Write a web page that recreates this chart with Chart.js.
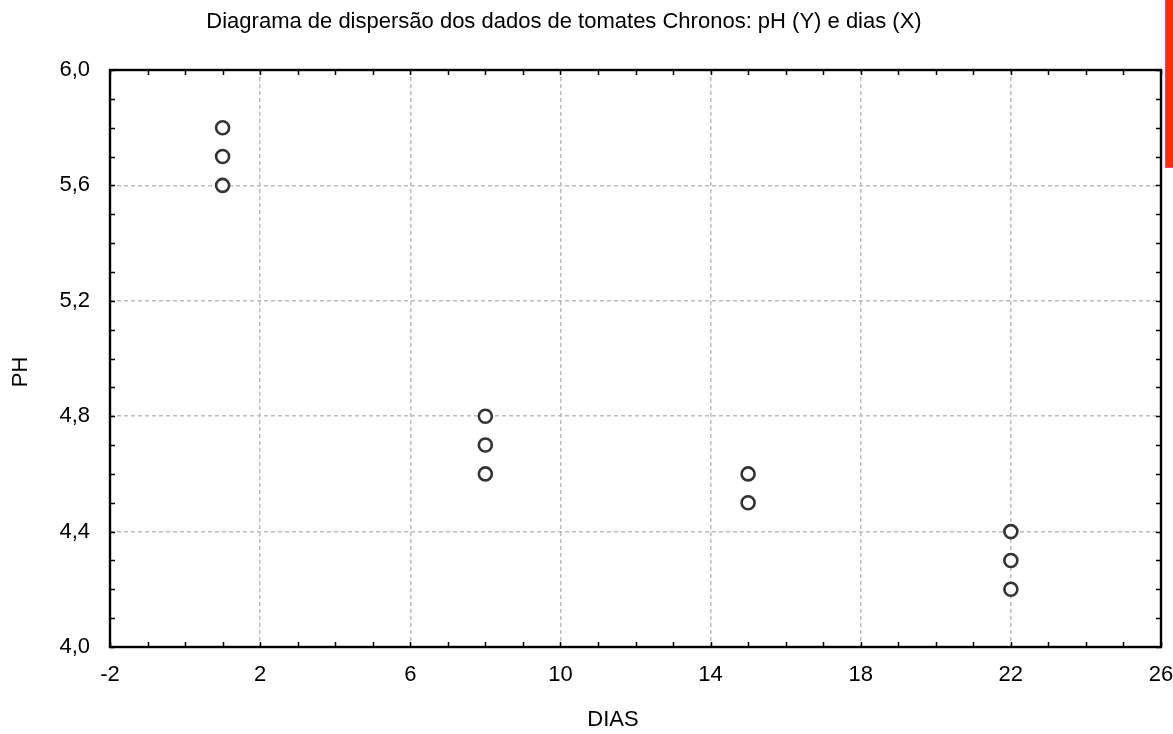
<!DOCTYPE html>
<html>
<head>
<meta charset="utf-8">
<script src="https://cdn.jsdelivr.net/npm/chart.js@4.4.1/dist/chart.umd.min.js"></script>
<style>
  html, body { margin: 0; padding: 0; background: #fff; }
  #wrap { position: relative; width: 1173px; height: 734px; }
  #flag { position: absolute; left: 1165px; top: 0; width: 8px; height: 168px;
          background: #ff2a00; border-left: 1px solid #ff3c78; border-bottom: 1px solid #ff3c78; box-sizing: border-box; }
</style>
</head>
<body>
<div id="wrap">
  <canvas id="c" width="1173" height="734"></canvas>
  <div id="flag"></div>
</div>
<script>
// Chronos tomatoes: pH measured on each sampling day
const dias = [1, 1, 1, 8, 8, 8, 15, 15, 22, 22, 22];
const ph   = [5.8, 5.7, 5.6, 4.8, 4.7, 4.6, 4.6, 4.5, 4.4, 4.3, 4.2];

// axis ranges and labelled tick values
const xTicks = [-2, 2, 6, 10, 14, 18, 22, 26];
const yTicks = [4.0, 4.4, 4.8, 5.2, 5.6, 6.0];

const titleText = 'Diagrama de dispersão dos dados de tomates Chronos: pH (Y) e dias (X)';
const xTitle = 'DIAS';
const yTitle = 'PH';

const FONT = '"Liberation Sans", Arial, sans-serif';
const FS = 22;

const isXMajor = v => xTicks.includes(Math.round(v));
const isYMajor = v => yTicks.some(t => Math.abs(t - v) < 1e-6);
const fmtY = v => v.toFixed(1).replace('.', ',');

// frame, inward minor/major ticks on all four sides, and the text
const framePlugin = {
  id: 'frame',
  afterDatasetsDraw(chart) {
    const { ctx, chartArea: a, scales: { x, y } } = chart;
    ctx.save();
    ctx.strokeStyle = '#000';
    ctx.lineWidth = 1.5;
    x.ticks.forEach(t => {
      const px = Math.round(x.getPixelForValue(t.value)) + 0.5;
      ctx.beginPath();
      ctx.moveTo(px, a.bottom); ctx.lineTo(px, a.bottom - 5);
      ctx.moveTo(px, a.top); ctx.lineTo(px, a.top + 5);
      ctx.stroke();
    });
    y.ticks.forEach(t => {
      const py = Math.round(y.getPixelForValue(t.value)) + 0.5;
      ctx.beginPath();
      ctx.moveTo(a.left, py); ctx.lineTo(a.left + 5, py);
      ctx.moveTo(a.right, py); ctx.lineTo(a.right - 5, py);
      ctx.stroke();
    });
    ctx.lineWidth = 2.4;
    ctx.strokeRect(a.left, a.top, a.right - a.left, a.bottom - a.top);

    ctx.fillStyle = '#000';
    ctx.font = FS + 'px ' + FONT;
    ctx.textAlign = 'center';
    ctx.textBaseline = 'middle';
    ctx.fillText(titleText, 564, 22);
    ctx.fillText(xTitle, 613, 720);
    ctx.translate(21, 372);
    ctx.rotate(-Math.PI / 2);
    ctx.fillText(yTitle, 0, 0);
    ctx.restore();
  }
};

new Chart(document.getElementById('c'), {
  type: 'scatter',
  data: {
    datasets: [{
      data: dias.map((d, i) => ({ x: d, y: ph[i] })),
      pointRadius: 6.5,
      pointHoverRadius: 6.5,
      pointBorderWidth: 2.6,
      pointBorderColor: '#333',
      pointBackgroundColor: '#fff'
    }]
  },
  options: {
    responsive: false,
    animation: false,
    events: [],
    layout: { padding: { top: 70, right: 12, left: 0, bottom: 0 } },
    plugins: { legend: { display: false }, tooltip: { enabled: false } },
    scales: {
      x: {
        type: 'linear',
        min: -2, max: 26,
        afterFit(s) { s.height = 87; s.paddingLeft = 0; s.paddingRight = 0; },
        ticks: {
          stepSize: 1, autoSkip: false, maxRotation: 0, padding: 15,
          color: '#000', font: { family: FONT, size: FS },
          callback: v => isXMajor(v) ? String(v) : ''
        },
        grid: {
          drawTicks: false,
          color: c => (isXMajor(c.tick.value) && c.tick.value > -2 && c.tick.value < 26) ? '#bdbdbd' : 'rgba(0,0,0,0)',
          lineWidth: 1.5
        },
        border: { display: false, dash: [4, 3] }
      },
      y: {
        type: 'linear',
        min: 4.0, max: 6.0,
        afterFit(s) { s.width = 110; s.paddingTop = 0; s.paddingBottom = 0; },
        ticks: {
          stepSize: 0.1, autoSkip: false, padding: 20,
          color: '#000', font: { family: FONT, size: FS },
          callback: v => isYMajor(v) ? fmtY(v) : ''
        },
        grid: {
          drawTicks: false,
          color: c => (isYMajor(c.tick.value) && c.tick.value > 4.01 && c.tick.value < 5.99) ? '#bdbdbd' : 'rgba(0,0,0,0)',
          lineWidth: 1.5
        },
        border: { display: false, dash: [4, 3] }
      }
    }
  },
  plugins: [framePlugin]
});
</script>
</body>
</html>
